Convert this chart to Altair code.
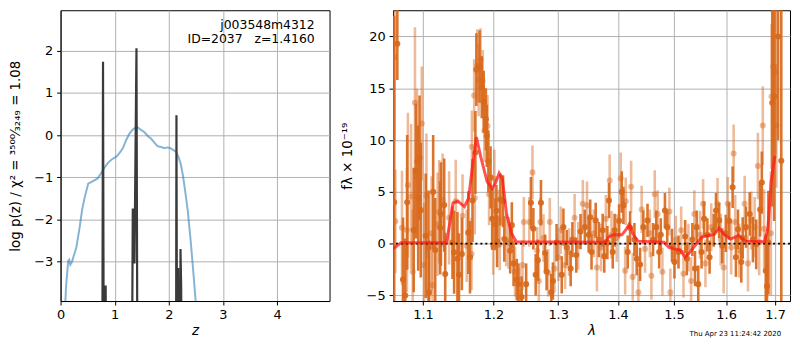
import altair as alt
import pandas as pd

# ---------------- left panel: redshift PDF ----------------
pz_z = [0.07, 0.10, 0.14, 0.16, 0.18, 0.21, 0.29, 0.35, 0.40, 0.45, 0.51, 0.58, 0.68, 0.74,
        0.81, 0.88, 0.95, 1.03, 1.09, 1.15, 1.21, 1.27, 1.33, 1.41, 1.48, 1.55, 1.62, 1.67,
        1.73, 1.79, 1.86, 1.92, 1.97, 2.02, 2.08, 2.13, 2.18, 2.22, 2.26, 2.30, 2.35, 2.40,
        2.45, 2.50, 2.55]
pz_logp = [-4.5, -3.6, -2.98, -2.95, -3.07, -3.0, -2.66, -2.2, -1.75, -1.45, -1.15, -1.1, -1.03, -0.92,
           -0.77, -0.65, -0.57, -0.51, -0.42, -0.31, -0.12, 0.03, 0.13, 0.2, 0.13, 0.07, -0.03, -0.08,
           -0.17, -0.26, -0.28, -0.31, -0.29, -0.30, -0.35, -0.39, -0.52, -0.68, -0.95, -1.3, -1.79, -2.45,
           -3.2, -4.0, -4.6]

spk_z = [0.70, 0.770, 0.784, 0.798, 0.824, 0.833, 0.842, 1.300, 1.318, 1.334, 1.365, 1.402, 1.420,
         2.120, 2.133, 2.141, 2.152, 2.165, 2.172, 2.180, 2.205, 2.216, 2.228, 2.240, 2.300]
spk_logp = [-6, -6, 1.74, -6, -6, -3.56, -6, -6, -6, -1.74, -3.04, 2.06, -6,
            -6, -6, 0.47, -6, -6, -3.15, -6, -6, -2.7, -3.6, -6, -6]

id_lines = ["j003548m4312", "ID=2037\u00a0\u00a0\u00a0z=1.4160"]
left_ytitle = "log p(z) / \u03c7\u00b2 = \u00b3\u2075\u2070\u2070\u2044\u2083\u2082\u2084\u2089 = 1.08"

# ---------------- right panel: spectrum ----------------
d_wave = [1.0615, 1.0656, 1.0731, 1.0761, 1.0787, 1.0874, 1.0904, 1.0935, 1.0953, 1.0970, 1.1037, 1.1075,
          1.1083, 1.1139, 1.1167, 1.1236, 1.1246, 1.1292, 1.1306, 1.1408, 1.1431, 1.1478, 1.1500,
          1.1541, 1.1634, 1.1658, 1.1694, 1.1736, 1.1750, 1.1797, 1.1829, 1.1857, 1.1889, 1.1903,
          1.1926, 1.1958, 1.1982, 1.2030, 1.2045, 1.2055, 1.2104, 1.2144, 1.2163, 1.2252, 1.2277,
          1.2303, 1.2352, 1.2377, 1.2426,
          1.2496, 1.2570, 1.2608, 1.2644, 1.2678, 1.2727, 1.2792, 1.2816, 1.2890, 1.2916, 1.2975,
          1.3058, 1.3085, 1.3139, 1.3203, 1.3231, 1.3295, 1.3365, 1.3436, 1.3500, 1.3526,
          1.3548, 1.3618, 1.3671, 1.3736, 1.3763, 1.3816, 1.3844, 1.3908, 1.3940, 1.4018, 1.4063,
          1.4093, 1.4168, 1.4210, 1.4286, 1.4326, 1.4386, 1.4444, 1.4519, 1.4619, 1.4677,
          1.4730, 1.4759, 1.4835, 1.4877, 1.4965, 1.5011, 1.5086, 1.5211, 1.5242, 1.5347, 1.5397,
          1.5429, 1.5459, 1.5522, 1.5571, 1.5634, 1.5677, 1.5757, 1.5802, 1.5864, 1.5925,
          1.5994, 1.6061, 1.6130, 1.6196, 1.6237, 1.6304, 1.6332, 1.6399, 1.6474, 1.6540, 1.6607,
          1.6688, 1.6723, 1.6804, 1.6830, 1.6859, 1.6940, 1.6980, 1.7062, 1.7130]
d_flux = [4.0, 19.3, -3.46, -5.0, 4.0, 1.32, 7.0, 4.4, 8.3, 3.24, 0.77, -0.37,
          -4.7, 5.0, -0.6, 1.54, 2.87, 3.73, -2.93, 0.1, -0.83, -1.45, -3.0,
          -1.0, 1.07, -1.3, 4.17, 8.8, 16.8, 17.1, 15.1, 13.7, 12.0, 10.4,
          7.96, 6.4, 2.4, 1.88, 3.17, 0.24, 4.26, 4.1, 0.46, -0.68, 1.79,
          -1.9, -3.46, -3.9, -5.15,
          -3.9, 3.95, 1.45, -3.0, -1.6, 3.95, -0.9, -2.7, -4.7, -3.6, 0.1,
          -3.0, 1.6, -0.37, -2.4, 0.4, -1.1, 1.17, 1.6, 0.86, 2.56,
          -0.8, 2.25, 0.4, 1.3, -1.2, 0.1, 4.17, -0.8, 1.3, 2.2, 5.0,
          3.7, -0.8, 1.54, 0.4, -1.45, -2.0, 1.6, 2.25, 0.4, 1.6,
          -0.8, 0.86, 3.2, 1.6, -0.15, -1.76, -0.8, 0.7, -1.45, 0.4, -2.4,
          1.6, -3.9, -0.8, 2.4, 0.86, -1.3, 1.3, 3.2, 2.25, -0.2,
          1.0, 2.2, 5.45, -1.3, 1.4, -1.76, 0.55, 1.6, 2.87, 0.4, -0.06,
          3.3, 5.9, -2.6, -4.1, 0.1, 13.6, 14.2, 20.0, 8.0]
d_err = [18.0, 3.5, 6.0, 5.5, 6.5, 6.0, 6.5, 7.0, 6.0, 6.5, 6.0, 5.5,
         5.0, 5.5, 5.0, 4.5, 5.0, 4.5, 4.0, 3.5, 4.0, 4.5, 4.0,
         3.5, 4.0, 3.5, 4.0, 4.0, 3.5, 3.5, 3.0, 3.0, 3.0, 3.0,
         3.0, 3.0, 3.0, 2.5, 2.5, 2.5, 2.5, 2.5, 2.2, 2.2, 2.2,
         2.2, 2.0, 2.0, 2.0,
         2.0, 2.5, 2.0, 2.0, 2.0, 2.2, 1.8, 1.8, 1.8, 1.8, 1.8,
         1.8, 1.8, 1.7, 1.7, 1.7, 1.7, 1.7, 1.7, 1.7, 1.7,
         1.7, 1.7, 1.7, 1.6, 1.6, 1.6, 1.7, 1.6, 1.6, 1.6, 2.0,
         1.8, 1.6, 1.6, 1.6, 1.6, 1.6, 1.6, 1.6, 1.6, 1.6,
         1.6, 1.6, 1.7, 1.6, 1.6, 1.6, 1.6, 1.6, 1.6, 1.6, 1.7,
         1.6, 1.8, 1.6, 1.7, 1.6, 1.6, 1.6, 1.7, 1.7, 1.7,
         1.8, 1.8, 2.0, 1.9, 1.9, 2.0, 2.0, 2.0, 2.1, 2.2, 2.4,
         2.6, 3.0, 3.5, 4.0, 5.0, 10.0, 12.0, 10.0, 20.0]

l_wave = [1.0620, 1.0630, 1.0718, 1.0783, 1.0796, 1.0839, 1.0861, 1.0891, 1.0918, 1.0983, 1.1014, 1.1047,
          1.1117, 1.1131, 1.1200, 1.1222, 1.1270, 1.1361, 1.1454, 1.1551, 1.1611, 1.1680, 1.1685,
          1.1718, 1.1727, 1.1764, 1.1783, 1.1811, 1.1843, 1.1867, 1.1913, 1.1936, 1.1996, 1.2015,
          1.2080, 1.2095, 1.2193, 1.2228, 1.2326, 1.2400, 1.2440, 1.2460,
          1.2545, 1.2594, 1.2668, 1.2693, 1.2718, 1.2767, 1.2841, 1.2867, 1.2941, 1.3005, 1.3042,
          1.3113, 1.3177, 1.3268, 1.3327, 1.3403, 1.3473, 1.3586, 1.3639, 1.3710, 1.3790, 1.3855,
          1.3887, 1.3977, 1.4046, 1.4123, 1.4133, 1.4228, 1.4256, 1.4356, 1.4414, 1.4474, 1.4561,
          1.4589, 1.4649, 1.4702, 1.4789, 1.4917, 1.4935, 1.5037, 1.5136, 1.5179, 1.5272, 1.5323,
          1.5384, 1.5491, 1.5552, 1.5597, 1.5709, 1.5832, 1.5895, 1.5952, 1.6034, 1.6101, 1.6150,
          1.6182, 1.6263, 1.6372, 1.6439, 1.6506, 1.6575, 1.6642, 1.6668, 1.6743, 1.6769, 1.6911,
          1.6925, 1.6960, 1.7012, 1.7027]
l_flux = [18.0, 2.16, 1.54, 1.32, 5.65, 4.56, -2.7, 13.6, 7.96, 11.6, -2.07, 4.63,
          1.0, -4.0, 1.88, 3.08, 4.2, 2.5, 4.1, 2.7, -0.2, -1.0, 9.35,
          14.3, 4.4, 17.2, 15.8, 17.8, 15.7, 10.9, 11.35, 4.78, -0.2, 6.26,
          2.4, -0.06, 0.33, 0.09, -2.7, -4.7, -2.07, 2.1,
          2.1, 6.88, -0.68, -3.6, 2.1, 0.55, -2.8, 2.1, -2.4, -1.3, 1.3,
          -2.07, -0.8, 2.5, -0.2, 3.85, 3.7, 1.0, -2.3, -0.37, 2.4, 6.1,
          0.86, 0.55, 6.3, -2.6, 4.1, 5.5, -3.2, -4.7, 3.3, -0.5, 1.0,
          -3.1, 4.78, 2.87, -2.7, 3.1, -4.7, 0.4, 1.3, -2.9, -0.37, -3.6,
          2.87, 0.86, 3.85, -1.9, 1.6, 3.85, 0.4, -2.3, 3.85, -0.37, 8.7,
          2.1, -0.68, 3.85, -1.9, 2.25, 1.6, 7.5, 0.15, 11.4, 1.45, 1.0,
          14.2, 17.1, 16.6, 11.4]
l_err = [8.0, 5.0, 5.5, 6.0, 7.0, 7.0, 6.0, 7.3, 7.0, 5.5, 6.0, 6.0,
         5.5, 5.0, 5.0, 5.0, 4.5, 4.5, 4.0, 4.0, 3.5, 3.5, 3.5,
         3.5, 3.5, 3.5, 3.5, 3.0, 3.0, 3.0, 3.0, 3.0, 2.8, 2.8,
         2.8, 2.5, 2.5, 2.5, 2.4, 2.4, 2.4, 2.4,
         2.4, 2.6, 2.3, 2.3, 2.3, 2.3, 2.3, 2.3, 2.3, 2.3, 2.3,
         2.3, 2.3, 2.3, 2.3, 2.3, 2.3, 2.3, 2.3, 2.3, 2.3, 2.5,
         2.3, 2.3, 2.5, 2.3, 2.3, 2.5, 2.3, 2.3, 2.3, 2.3, 2.3,
         2.3, 2.3, 2.3, 2.3, 2.3, 2.3, 2.3, 2.3, 2.3, 2.3, 2.3,
         2.3, 2.3, 2.4, 2.3, 2.3, 2.5, 2.5, 2.5, 2.6, 2.6, 2.8,
         2.6, 2.6, 2.7, 2.7, 2.8, 2.9, 3.2, 3.2, 3.8, 3.8, 6.0,
         7.0, 8.0, 8.0, 6.0]

model_wave = [1.0600, 1.0706, 1.1325, 1.1416, 1.1485, 1.1577, 1.1638, 1.1694, 1.1750, 1.1813, 1.1907,
              1.1979, 1.2028, 1.2086, 1.2134, 1.2197, 1.2271, 1.2345, 1.3785, 1.3840, 1.3923, 1.4066,
              1.4134, 1.4195, 1.4263, 1.4349, 1.4819, 1.4908, 1.4998, 1.5119, 1.5210, 1.5302, 1.5394,
              1.5517, 1.5611, 1.5769, 1.5864, 1.5960, 1.6088, 1.6251, 1.6380, 1.6780, 1.6849, 1.6916,
              1.6997]
model_flux = [-0.5, 0.1, 0.1, 3.95, 4.1, 3.58, 4.4, 7.5, 10.3, 8.4, 6.0,
              5.34, 5.8, 6.8, 6.27, 2.87, 1.0, 0.2, 0.15, 0.65, 0.9, 0.86,
              1.33, 1.88, 0.9, 0.25, 0.15, -0.35, -0.5, -0.6, -1.3, -0.8, -0.2,
              0.6, 0.75, 0.9, 1.5, 0.9, 0.45, 0.8, 0.25, 0.2, 1.5, 6.0,
              8.5]

wave_ticks = [1.1, 1.2, 1.3, 1.4, 1.5, 1.6, 1.7]
flux_ticks = [-5, 0, 5, 10, 15, 20]
z_ticks = [0, 1, 2, 3, 4]
logp_ticks = [-3, -2, -1, 0, 1, 2]
zero_level = [0.0]
timestamp = ["Thu Apr 23 11:24:42 2020"]

FONT = "DejaVu Sans"
DARK = "#d8691c"
GRID = "#b0b0b0"

# ---------------- build left panel ----------------
pz_df = pd.DataFrame({"z": pz_z, "logp": pz_logp})
spk_df = pd.DataFrame({"z": spk_z, "logp": spk_logp})
id_df = pd.DataFrame({"t": id_lines, "row": [0, 1]})

zscale = alt.Scale(domain=[0, 4.97], nice=False, zero=False)
pscale = alt.Scale(domain=[-3.93, 2.96], nice=False, zero=False)

LW, LH = 271, 293
RW, RH = 400, 293

blue = alt.Chart(pz_df).mark_line(color="#1f77b4", opacity=0.55, strokeWidth=2, clip=True).encode(
    x=alt.X("z:Q", scale=zscale,
            axis=alt.Axis(values=z_ticks, title="z", titleFontStyle="italic", format="d")),
    y=alt.Y("logp:Q", scale=pscale,
            axis=alt.Axis(values=logp_ticks, title=left_ytitle, titlePadding=11, format="d")),
    order="z:Q",
)
spikes = alt.Chart(spk_df).mark_line(color="#3a3a3a", strokeWidth=2.2, clip=True).encode(
    x="z:Q", y="logp:Q", order="z:Q"
)
id1 = alt.Chart(id_df.iloc[[0]]).mark_text(align="right", baseline="alphabetic", font=FONT,
                                            fontSize=12.5, color="black").encode(
    x=alt.value(256), y=alt.value(19), text="t:N")
id2 = alt.Chart(id_df.iloc[[1]]).mark_text(align="right", baseline="alphabetic", font=FONT,
                                            fontSize=12.5, color="black").encode(
    x=alt.value(256), y=alt.value(33), text="t:N")

left = alt.layer(blue, spikes, id1, id2).properties(width=LW, height=LH)

# ---------------- build right panel ----------------
dark = pd.DataFrame({"wave": d_wave, "flux": d_flux, "err": d_err})
dark["lo"] = dark["flux"] - dark["err"]
dark["hi"] = dark["flux"] + dark["err"]
light = pd.DataFrame({"wave": l_wave, "flux": l_flux, "err": l_err})
light["lo"] = light["flux"] - light["err"]
light["hi"] = light["flux"] + light["err"]
model = pd.DataFrame({"wave": model_wave, "flux": model_flux})
zero_df = pd.DataFrame({"level": zero_level})
ts_df = pd.DataFrame({"t": timestamp})

wscale = alt.Scale(type="log", domain=[1.06, 1.7316], nice=False, zero=False)
fscale = alt.Scale(domain=[-5.53, 22.53], nice=False, zero=False)

light_bars = alt.Chart(light).mark_rule(color=DARK, opacity=0.45, strokeWidth=2.6, clip=True).encode(
    x=alt.X("wave:Q", scale=wscale,
            axis=alt.Axis(values=wave_ticks, format=".1f", title="\u03bb", titleFontStyle="italic")),
    y=alt.Y("lo:Q", scale=fscale,
            axis=alt.Axis(values=flux_ticks, format="d", title="f\u03bb \u00d7 10\u207b\u00b9\u2079",
                          titlePadding=12)),
    y2="hi:Q",
)
light_pts = alt.Chart(light).mark_circle(color=DARK, opacity=0.45, size=38, clip=True).encode(
    x="wave:Q", y="flux:Q"
)
dark_bars = alt.Chart(dark).mark_rule(color=DARK, opacity=0.92, strokeWidth=2.6, clip=True).encode(
    x="wave:Q", y="lo:Q", y2="hi:Q"
)
dark_pts = alt.Chart(dark).mark_circle(color=DARK, opacity=0.92, size=38, clip=True).encode(
    x="wave:Q", y="flux:Q"
)
zero_line = alt.Chart(zero_df).mark_rule(color="black", strokeDash=[2, 3], strokeWidth=1.8).encode(
    y="level:Q"
)
model_line = alt.Chart(model).mark_line(color="#ff1a1a", opacity=0.75, strokeWidth=3, clip=True).encode(
    x="wave:Q", y="flux:Q", order="wave:Q"
)
stamp = alt.Chart(ts_df).mark_text(align="right", baseline="middle", font=FONT, fontSize=7,
                                   color="black").encode(
    x=alt.value(391), y=alt.value(326), text="t:N")

right = alt.layer(light_bars, light_pts, dark_bars, dark_pts, zero_line, model_line, stamp).properties(
    width=RW, height=RH)

chart = alt.hconcat(left, right, spacing=9).properties(padding=0).configure_view(
    stroke="black", strokeWidth=1
).configure_axis(
    grid=True, gridColor=GRID, gridWidth=1, gridOpacity=1,
    domainColor="black", domainWidth=1, tickColor="black", tickSize=4, tickWidth=1,
    labelFont=FONT, labelFontSize=13, labelColor="black", labelPadding=4,
    titleFont=FONT, titleFontSize=13.5, titleColor="black", titleFontWeight="normal",
    labelFlush=False, labelOverlap=False,
).configure_axisX(titlePadding=2, labelPadding=4)

chart.save("out.html", embed_options={"renderer": "svg", "actions": False})
